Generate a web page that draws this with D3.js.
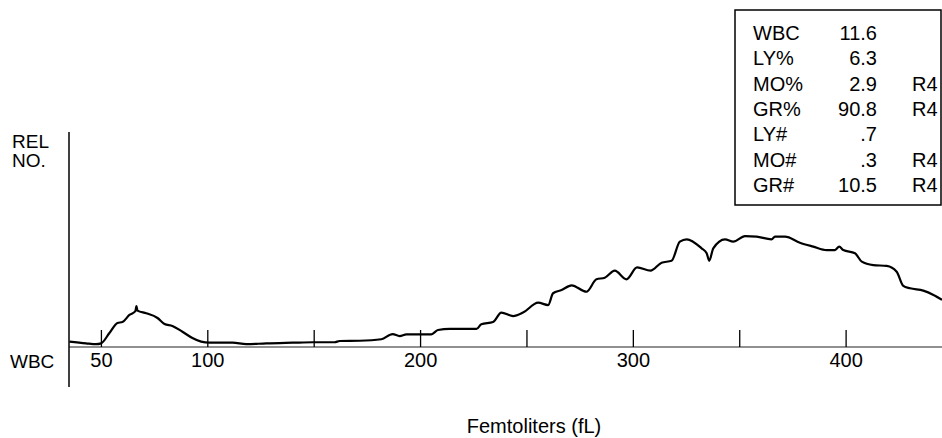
<!DOCTYPE html>
<html>
<head>
<meta charset="utf-8">
<script src="https://cdn.jsdelivr.net/npm/d3@7/dist/d3.min.js"></script>
<style>
  html, body { margin: 0; padding: 0; background: #fff; }
  svg { display: block; }
  text { font-family: "Liberation Sans", Arial, Helvetica, sans-serif; fill: #000; }
</style>
</head>
<body>
<svg id="chart" width="942" height="438"></svg>
<script>
// Histogram trace (femtoliters vs relative number)
const femtoliters = [35.2, 43.0, 47.7, 50.1, 54.0, 57.8, 60.1, 63.4, 66.2, 66.7, 67.2, 71.3, 76.6, 79.9, 83.6, 88.3, 93.0, 97.1, 101.0,
  111.9, 118.3, 127.7, 140.1, 149.5, 159.8, 162.2, 171.6, 181.8, 187.1, 190.4, 193.6, 205.3, 208.4, 213.9, 226.5, 228.8, 234.3,
  238.2, 243.7, 248.4, 255.5, 260.2, 262.5, 266.5, 271.2, 278.2, 282.9, 286.8, 291.5, 297.0, 302.0, 308.3, 313.5, 318.2, 322.1,
  325.3, 332.3, 334.7, 335.9, 337.8, 343.3, 347.2, 352.7, 358.2, 365.2, 366.8, 371.5, 378.5, 384.8, 391.1, 395.0, 397.0, 398.9,
  404.4, 407.6, 413.0, 419.3, 424.0, 427.1, 430.3, 436.5, 441.3, 445.3];
const relNumber = [2.5, 1.7, 1.3, 1.7, 6.5, 11.2, 11.6, 14.9, 16.7, 19.0, 16.9, 15.7, 13.5, 10.7, 9.8, 7.1, 4.2, 2.5, 2.0,
  2.0, 1.3, 1.7, 2.0, 2.2, 2.2, 2.8, 2.9, 3.6, 6.0, 5.1, 5.9, 5.9, 7.9, 8.4, 8.4, 10.6, 11.6,
  16.0, 14.4, 16.0, 20.6, 19.5, 25.0, 26.5, 28.7, 25.7, 31.5, 32.2, 35.5, 31.5, 37.0, 35.5, 39.2, 40.1, 49.0,
  50.1, 45.9, 43.6, 40.1, 45.9, 50.1, 49.0, 51.6, 51.3, 50.1, 51.3, 51.3, 48.5, 46.7, 45.1, 45.1, 46.7, 45.1,
  43.6, 39.7, 38.1, 37.7, 35.0, 28.4, 27.3, 26.2, 24.2, 21.9];

const tickValues = [50, 100, 150, 200, 250, 300, 350, 400];
const tickLabels = ["50", "100", "", "200", "", "300", "", "400"];

const tableLabels = ["WBC", "LY%", "MO%", "GR%", "LY#", "MO#", "GR#"];
const tableValues = ["11.6", "6.3", "2.9", "90.8", ".7", ".3", "10.5"];
const tableFlags  = ["", "", "R4", "R4", "", "R4", "R4"];

const xLabel = "Femtoliters (fL)";
const yLabelLines = ["REL", "NO."];
const xAxisName = "WBC";

const svg = d3.select("#chart");
const x = d3.scaleLinear().domain([35, 445.3]).range([69, 942]);
const y = d3.scaleLinear().domain([0, 100]).range([347, 132]);

// baseline
svg.append("line")
  .attr("x1", 69).attr("x2", 942)
  .attr("y1", y(0)).attr("y2", y(0))
  .attr("stroke", "#222").attr("stroke-width", 1.2);

// vertical axis
svg.append("line")
  .attr("x1", 69).attr("x2", 69)
  .attr("y1", 132).attr("y2", 387)
  .attr("stroke", "#000").attr("stroke-width", 1.5);

// x ticks (pointing up), labels below
const xAxis = d3.axisBottom(x)
  .tickValues(tickValues)
  .tickFormat((d, i) => tickLabels[i])
  .tickSizeInner(-17)
  .tickSizeOuter(0)
  .tickPadding(6);

const gx = svg.append("g")
  .attr("transform", `translate(0,${y(0)})`)
  .call(xAxis);
gx.select(".domain").remove();
gx.selectAll(".tick line").attr("stroke", "#000").attr("stroke-width", 1.3);
gx.selectAll(".tick text")
  .attr("font-size", 20)
  .attr("fill", "#000")
  .style("font-family", '"Liberation Sans", Arial, sans-serif');

// curve
const pts = femtoliters.map((f, i) => [f, relNumber[i]]);
const line = d3.line()
  .x(d => x(d[0]))
  .y(d => y(d[1]))
  .curve(d3.curveMonotoneX);
svg.append("path")
  .datum(pts)
  .attr("d", line)
  .attr("fill", "none")
  .attr("stroke", "#000")
  .attr("stroke-width", 2.2)
  .attr("stroke-linejoin", "round");

// left labels
svg.selectAll("text.ylab")
  .data(yLabelLines)
  .enter().append("text")
  .attr("class", "ylab")
  .attr("x", 12)
  .attr("y", (d, i) => 148 + i * 19)
  .attr("font-size", 19)
  .text(d => d);

svg.append("text")
  .attr("x", 10).attr("y", 368)
  .attr("font-size", 19)
  .text(xAxisName);

// x axis title
svg.append("text")
  .attr("x", 534).attr("y", 433)
  .attr("text-anchor", "middle")
  .attr("font-size", 20)
  .text(xLabel);

// results table
svg.append("rect")
  .attr("x", 735).attr("y", 10)
  .attr("width", 206).attr("height", 195)
  .attr("fill", "#fff")
  .attr("stroke", "#000").attr("stroke-width", 1.5);

const rows = svg.append("g").selectAll("g")
  .data(tableLabels)
  .enter().append("g")
  .attr("transform", (d, i) => `translate(0,${40 + i * 25.3})`);
rows.append("text").attr("x", 753).attr("font-size", 20).text(d => d);
rows.append("text").attr("x", 877).attr("text-anchor", "end").attr("font-size", 20)
  .text((d, i) => tableValues[i]);
rows.append("text").attr("x", 912).attr("font-size", 20)
  .text((d, i) => tableFlags[i]);
</script>
</body>
</html>
